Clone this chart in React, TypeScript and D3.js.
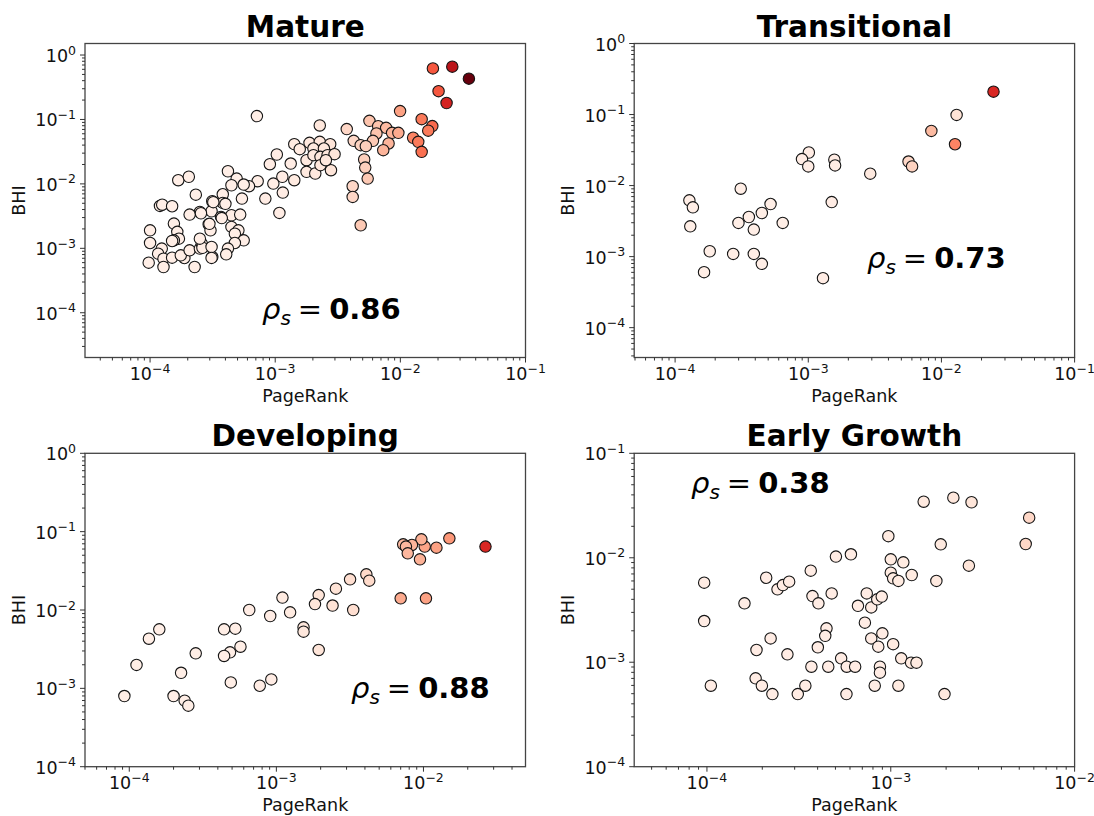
import React from 'react';
import * as d3 from 'd3';

// [PageRank, BHI, colour value]
type Pt = [number, number, number];

const matureData: Pt[] = [
  [0.0182, 0.62, 0.55], [0.026, 0.66, 0.8], [0.0353, 0.43, 1.0], [0.0202, 0.275, 0.55], [0.0234, 0.18, 0.72],
  [0.00995, 0.135, 0.33], [0.0148, 0.101, 0.45], [0.018, 0.079, 0.5], [0.0167, 0.067, 0.45], [0.01265, 0.052, 0.42],
  [0.0139, 0.045, 0.45], [0.0148, 0.0314, 0.48],
  [0.00566, 0.0953, 0.22], [0.00665, 0.0787, 0.22], [0.0077, 0.0742, 0.25], [0.00644, 0.0606, 0.22], [0.00859, 0.062, 0.27],
  [0.00964, 0.062, 0.3], [0.00805, 0.0424, 0.27], [0.0073, 0.0334, 0.27], [0.00604, 0.0466, 0.2], [0.00373, 0.0708, 0.15],
  [0.00424, 0.0466, 0.15], [0.00482, 0.0399, 0.17], [0.0053, 0.0385, 0.18], [0.00514, 0.0239, 0.18], [0.00524, 0.0179, 0.18],
  [0.00548, 0.0121, 0.2], [0.00416, 0.0092, 0.15], [0.00416, 0.00628, 0.15], [0.00482, 0.00228, 0.2],
  [0.000714, 0.1127, 0.04], [0.00227, 0.0807, 0.08], [0.00142, 0.0414, 0.06], [0.00157, 0.0346, 0.06], [0.00188, 0.0434, 0.07],
  [0.00227, 0.045, 0.08], [0.00275, 0.0414, 0.09], [0.00202, 0.0354, 0.07], [0.00245, 0.0354, 0.08], [0.00178, 0.0233, 0.07],
  [0.00202, 0.0279, 0.07], [0.0023, 0.0263, 0.08], [0.00262, 0.0279, 0.08], [0.00298, 0.0289, 0.09], [0.00178, 0.0154, 0.07],
  [0.00209, 0.0145, 0.07], [0.0023, 0.0195, 0.08], [0.00279, 0.0163, 0.09], [0.00254, 0.0233, 0.08],
  [0.00103, 0.0286, 0.05], [0.000906, 0.0202, 0.05], [0.00133, 0.0207, 0.05], [0.00114, 0.0129, 0.05], [0.00142, 0.0114, 0.06],
  [0.000966, 0.0101, 0.05], [0.00115, 0.00733, 0.05], [0.000834, 0.00591, 0.05], [0.00108, 0.00354, 0.05], [0.000724, 0.011, 0.04],
  [0.000617, 0.0092, 0.04],
  [0.000419, 0.0157, 0.04], [0.000492, 0.0121, 0.04], [0.00056, 0.00977, 0.04], [0.000447, 0.00953, 0.04], [0.000232, 0.0068, 0.04],
  [0.000381, 0.0069, 0.04], [0.000542, 0.00591, 0.04], [0.000314, 0.00538, 0.04], [0.000381, 0.00507, 0.04], [0.00025, 0.00367, 0.04],
  [0.000207, 0.00334, 0.04], [0.00031, 0.00376, 0.04], [0.000369, 0.00307, 0.04], [0.000447, 0.00326, 0.04], [0.000525, 0.00334, 0.04],
  [0.000294, 0.00236, 0.04], [0.000304, 0.0019, 0.04], [0.000447, 0.00215, 0.04], [0.000508, 0.0019, 0.04], [0.000476, 0.00169, 0.04],
  [0.00056, 0.00133, 0.04], [0.000476, 0.00121, 0.04], [0.000419, 0.00099, 0.04], [0.000406, 0.000807, 0.04], [0.000314, 0.000733, 0.04],
  [0.0004, 0.0049, 0.04], [0.00032, 0.0052, 0.04], [0.000374, 0.00295, 0.04],
  [0.000168, 0.0114, 0.04], [0.000204, 0.0129, 0.04], [0.00012, 0.00455, 0.04], [0.000125, 0.00475, 0.04], [0.00015, 0.0045, 0.04],
  [0.000155, 0.00242, 0.04], [0.000165, 0.0018, 0.04], [0.00017, 0.00141, 0.04], [0.000155, 0.00133, 0.04], [0.0001, 0.0019, 0.04],
  [0.0001, 0.00121, 0.04], [0.000124, 0.00099, 0.04], [0.000116, 0.000826, 0.04], [0.000128, 0.00069, 0.04], [0.000128, 0.000513, 0.04],
  [0.0000975, 0.000598, 0.04], [0.00015, 0.000716, 0.04], [0.000188, 0.000708, 0.04], [0.000176, 0.000778, 0.04], [0.000207, 0.000931, 0.04],
  [0.000227, 0.000513, 0.04], [0.00025, 0.00099, 0.04], [0.000267, 0.00105, 0.04], [0.000259, 0.00118, 0.04], [0.000262, 0.00102, 0.04],
  [0.00031, 0.00105, 0.04], [0.00031, 0.00071, 0.04], [0.00025, 0.00141, 0.04], [0.000298, 0.0024, 0.04], [0.000255, 0.0035, 0.04],
  [0.00015, 0.0013, 0.04],
];

const transitionalData: Pt[] = [
  [0.0246, 0.21, 0.7], [0.013, 0.0987, 0.1], [0.0084, 0.0588, 0.25], [0.01265, 0.0382, 0.42],
  [0.00101, 0.0292, 0.05], [0.000897, 0.0236, 0.05], [0.001, 0.0186, 0.05], [0.00157, 0.0231, 0.05], [0.00159, 0.0192, 0.05],
  [0.00292, 0.0147, 0.07], [0.00566, 0.0218, 0.15], [0.00602, 0.0186, 0.17], [0.0015, 0.00586, 0.05],
  [0.000311, 0.00903, 0.04], [0.000128, 0.0062, 0.04], [0.000136, 0.00494, 0.04], [0.00013, 0.00267, 0.04], [0.000521, 0.0055, 0.04],
  [0.000448, 0.00411, 0.04], [0.000358, 0.00361, 0.04], [0.000299, 0.00298, 0.04], [0.00039, 0.0024, 0.04], [0.000643, 0.00298, 0.04],
  [0.000182, 0.00119, 0.04], [0.000273, 0.00109, 0.04], [0.00039, 0.00109, 0.04], [0.000448, 0.000791, 0.04], [0.000165, 0.000604, 0.04],
  [0.00129, 0.000497, 0.05],
];

const developingData: Pt[] = [
  [0.0264, 0.0644, 0.7], [0.015, 0.0822, 0.36], [0.01225, 0.0625, 0.33], [0.0102, 0.0644, 0.32], [0.00968, 0.0798, 0.28],
  [0.00947, 0.0443, 0.28], [0.00835, 0.0676, 0.27], [0.00728, 0.0689, 0.25], [0.0076, 0.0644, 0.26], [0.00782, 0.0529, 0.26],
  [0.007, 0.0141, 0.3], [0.0104, 0.0141, 0.33],
  [0.00409, 0.0285, 0.14], [0.00428, 0.0237, 0.14], [0.00317, 0.0246, 0.12], [0.00333, 0.01, 0.12], [0.00254, 0.0187, 0.1],
  [0.00241, 0.0114, 0.1], [0.00194, 0.0155, 0.09], [0.00183, 0.0119, 0.09], [0.00194, 0.00309, 0.09], [0.00153, 0.00601, 0.08],
  [0.00153, 0.00529, 0.08], [0.0011, 0.0144, 0.06], [0.00124, 0.00934, 0.06], [0.000908, 0.00838, 0.05], [0.000654, 0.01, 0.05],
  [0.000924, 0.0013, 0.05], [0.000771, 0.00108, 0.05], [0.00049, 0.00119, 0.04], [0.00057, 0.0034, 0.04], [0.000484, 0.00288, 0.04],
  [0.000441, 0.00259, 0.04], [0.000441, 0.00566, 0.04], [0.000526, 0.00578, 0.04], [0.000283, 0.0028, 0.04], [0.000225, 0.00158, 0.04],
  [0.00016, 0.00566, 0.04], [0.000136, 0.0043, 0.04], [0.000112, 0.00199, 0.04], [0.0000926, 0.000798, 0.04], [0.0002, 0.000798, 0.04],
  [0.000238, 0.000697, 0.04], [0.000252, 0.000601, 0.04],
];

const earlyGrowthData: Pt[] = [
  [0.00151, 0.0344, 0.07], [0.00219, 0.0376, 0.08], [0.00275, 0.034, 0.09], [0.00566, 0.0242, 0.15], [0.00542, 0.01355, 0.15],
  [0.00097, 0.0161, 0.06], [0.00187, 0.01345, 0.07], [0.00266, 0.0084, 0.09], [0.000503, 0.01026, 0.05], [0.000607, 0.0108, 0.05],
  [0.001, 0.00966, 0.06], [0.00117, 0.00904, 0.06], [0.001, 0.0072, 0.06], [0.00103, 0.00635, 0.06], [0.0011, 0.006, 0.06],
  [0.0013, 0.00684, 0.06], [0.00177, 0.006, 0.07], [0.0000966, 0.00578, 0.05], [0.00021, 0.00644, 0.05], [0.000242, 0.00499, 0.05],
  [0.000259, 0.00548, 0.05], [0.00028, 0.0059, 0.05], [0.000367, 0.00752, 0.05], [0.000375, 0.0043, 0.05], [0.000404, 0.00366, 0.05],
  [0.000477, 0.00456, 0.05], [0.00016, 0.00366, 0.05], [0.0000966, 0.00248, 0.05], [0.00074, 0.00456, 0.05], [0.000663, 0.00347, 0.05],
  [0.000783, 0.00335, 0.05], [0.000844, 0.004, 0.05], [0.000893, 0.00425, 0.05], [0.000723, 0.00239, 0.05], [0.000447, 0.00211, 0.05],
  [0.00044, 0.00179, 0.05], [0.000222, 0.00169, 0.05], [0.0009, 0.00189, 0.05], [0.000783, 0.00169, 0.05], [0.000855, 0.00141, 0.05],
  [0.00103, 0.00149, 0.06], [0.000401, 0.00139, 0.05], [0.000186, 0.00131, 0.05], [0.000274, 0.00119, 0.05], [0.000537, 0.00109, 0.05],
  [0.00114, 0.00109, 0.06], [0.00129, 0.00099, 0.06], [0.00138, 0.00099, 0.06], [0.00037, 0.000906, 0.05], [0.000457, 0.000906, 0.05],
  [0.000576, 0.000906, 0.05], [0.00064, 0.000906, 0.05], [0.000873, 0.000906, 0.05], [0.000873, 0.000794, 0.05], [0.000184, 0.000701, 0.05],
  [0.000199, 0.000596, 0.05], [0.000105, 0.000596, 0.05], [0.000227, 0.000496, 0.05], [0.000312, 0.000496, 0.05], [0.000343, 0.000596, 0.05],
  [0.000574, 0.000496, 0.05], [0.000818, 0.000596, 0.05], [0.0011, 0.000596, 0.06], [0.00196, 0.000496, 0.07],
];

const panelData = [matureData, transitionalData, developingData, earlyGrowthData];
const panelTitles = ['Mature', 'Transitional', 'Developing', 'Early Growth'];
const rhoValues = ['0.86', '0.73', '0.88', '0.38'];
const xDomains = [[3.02e-5, 0.1], [4.93e-5, 0.1], [5.0e-5, 0.0494], [4.02e-5, 0.01]];
const yDomains = [[2.02e-5, 1.51], [3.8e-5, 1], [1e-4, 1], [1e-4, 0.1]];

const W = 1094;
const H = 816;
const colX = [[85, 525.5], [634.2, 1074.6]];
const rowY = [[43.5, 357.5], [453.3, 766.7]];
const rhoPos = [[262, 319], [867, 268], [351, 698], [691, 493]];
const font = 'DejaVu Sans';

const isMajor = (v: number) => Math.abs(Math.log10(v) - Math.round(Math.log10(v))) < 1e-6;

const Pow = ({ v, ...rest }: any) => {
  const e = Math.round(Math.log10(v));
  const exp = e < 0 ? '\u2212' + -e : String(e);
  return (
    <text {...rest} fontFamily={font} fontSize={17.5} fill="#111">
      10<tspan fontSize={12.5} dy={-7.5}>{exp}</tspan>
    </text>
  );
};

const Panel = ({ i }: { i: number }) => {
  const [x0, x1] = colX[i % 2];
  const [y0, y1] = rowY[Math.floor(i / 2)];
  const x = d3.scaleLog().domain(xDomains[i]).range([x0, x1]);
  const y = d3.scaleLog().domain(yDomains[i]).range([y1, y0]);
  const xt = x.ticks();
  const yt = y.ticks();
  const cx = (x0 + x1) / 2;
  const [rx, ry] = rhoPos[i];

  return (
    <g>
      <text x={cx} y={y0 - 7} textAnchor="middle" fontFamily={font} fontWeight="bold" fontSize={29.5} fill="#000">
        {panelTitles[i]}
      </text>
      {panelData[i].map((d, k) => (
        <circle
          key={k}
          cx={x(d[0])}
          cy={y(d[1])}
          r={5.7}
          fill={d3.interpolateReds(d[2])}
          stroke="#151515"
          strokeWidth={1.1}
        />
      ))}
      <rect x={x0} y={y0} width={x1 - x0} height={y1 - y0} fill="none" stroke="#444" strokeWidth={1.3} />
      {xt.map(t => (
        <line key={'x' + t} x1={x(t)} x2={x(t)} y1={y1} y2={y1 + (isMajor(t) ? 5 : 3)} stroke="#333" strokeWidth={1} />
      ))}
      {yt.map(t => (
        <line key={'y' + t} y1={y(t)} y2={y(t)} x1={x0} x2={x0 - (isMajor(t) ? 5 : 3)} stroke="#333" strokeWidth={1} />
      ))}
      {xt.filter(isMajor).map(t => (
        <Pow key={'xl' + t} v={t} x={x(t)} y={y1 + 22.5} textAnchor="middle" />
      ))}
      {yt.filter(isMajor).map(t => (
        <Pow key={'yl' + t} v={t} x={x0 - 9} y={y(t) + 7} textAnchor="end" />
      ))}
      <text x={cx} y={y1 + 44} textAnchor="middle" fontFamily={font} fontSize={17.5} fill="#111">
        PageRank
      </text>
      <text
        transform={`translate(${x0 - 60},${(y0 + y1) / 2}) rotate(-90)`}
        textAnchor="middle"
        fontFamily={font}
        fontSize={17.5}
        fill="#111"
      >
        BHI
      </text>
      <text x={rx} y={ry} fontFamily={font} fontSize={29} fill="#000">
        <tspan fontStyle="italic">ρ</tspan>
        <tspan fontStyle="italic" fontSize={20} dy={6}>s</tspan>
        <tspan dy={-6} dx={7}>=</tspan>
        <tspan dx={7} fontWeight="bold">{rhoValues[i]}</tspan>
      </text>
    </g>
  );
};

export default function App() {
  return (
    <svg width={W} height={H} style={{ position: 'absolute', left: 0, top: 0, background: '#fff' }}>
      <rect width={W} height={H} fill="#fff" />
      {[0, 1, 2, 3].map(i => <Panel key={i} i={i} />)}
    </svg>
  );
}
